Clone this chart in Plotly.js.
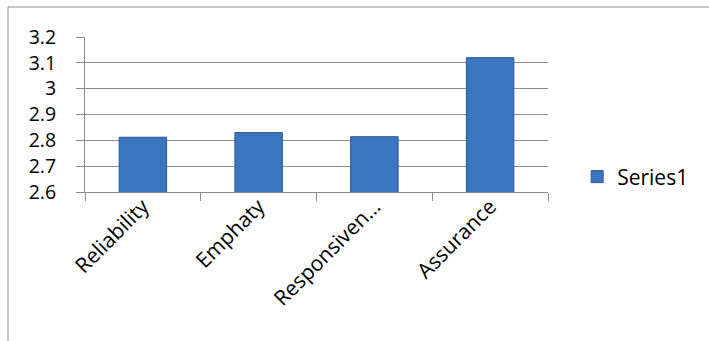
<!DOCTYPE html>
<html>
<head>
<meta charset="utf-8">
<script src="https://cdn.plot.ly/plotly-3.0.1.min.js"></script>
<style>html,body{margin:0;padding:0;background:#fff;}#chart{width:709px;height:341px;}</style>
</head>
<body>
<div id="chart"></div>
<script>
const categories = ["Reliability", "Emphaty", "Responsiven…", "Assurance"];
const values = [2.812, 2.83, 2.814, 3.12];
const seriesName = "Series1";
const yTicks = [2.6, 2.7, 2.8, 2.9, 3.0, 3.1, 3.2];
const yTickText = ["2.6", "2.7", "2.8", "2.9", "3", "3.1", "3.2"];

const FONT = "Open Sans, Liberation Sans, sans-serif";

const trace = {
  type: "bar",
  x: categories,
  y: values,
  name: seriesName,
  showlegend: true,
  marker: {
    color: "#3b75c0",
    line: {color: "#2a5796", width: 1}
  }
};

const layout = {
  width: 709,
  height: 341,
  margin: {l: 85, r: 161, t: 37, b: 149, pad: 0},
  paper_bgcolor: "#ffffff",
  plot_bgcolor: "#ffffff",
  bargap: 0.59,
  font: {family: FONT, color: "#000000"},
  showlegend: true,
  legend: {
    x: 1.063, y: 0.097, xanchor: "left", yanchor: "middle",
    font: {family: FONT, size: 21, color: "#000"},
    bgcolor: "rgba(0,0,0,0)",
    itemwidth: 30
  },
  xaxis: {
    type: "category",
    tickson: "boundaries",
    ticks: "outside",
    ticklen: 8,
    tickcolor: "#8c8c8c",
    tickangle: -45,
    ticklabelstandoff: -7,
    tickfont: {family: FONT, size: 21, color: "#000"},
    showline: true,
    linecolor: "#8c8c8c",
    linewidth: 1,
    showgrid: false,
    mirror: false
  },
  yaxis: {
    range: [2.6, 3.2],
    tickvals: yTicks,
    ticktext: yTickText,
    ticks: "outside",
    ticklen: 8,
    tickcolor: "#8c8c8c",
    ticklabelstandoff: 16,
    tickfont: {family: FONT, size: 19.5, color: "#000"},
    showline: true,
    linecolor: "#8c8c8c",
    linewidth: 1,
    showgrid: true,
    gridcolor: "#8c8c8c",
    gridwidth: 1,
    zeroline: false
  },
  shapes: [
    {type: "rect", xref: "paper", yref: "paper",
     x0: -0.1663, x1: 1.40, y0: -1.1, y1: 1.1935,
     line: {color: "#8c8c8c", width: 1}, fillcolor: "rgba(0,0,0,0)", layer: "below"}
  ]
};

Plotly.newPlot("chart", [trace], layout, {displayModeBar: false, staticPlot: true});
</script>
</body>
</html>
